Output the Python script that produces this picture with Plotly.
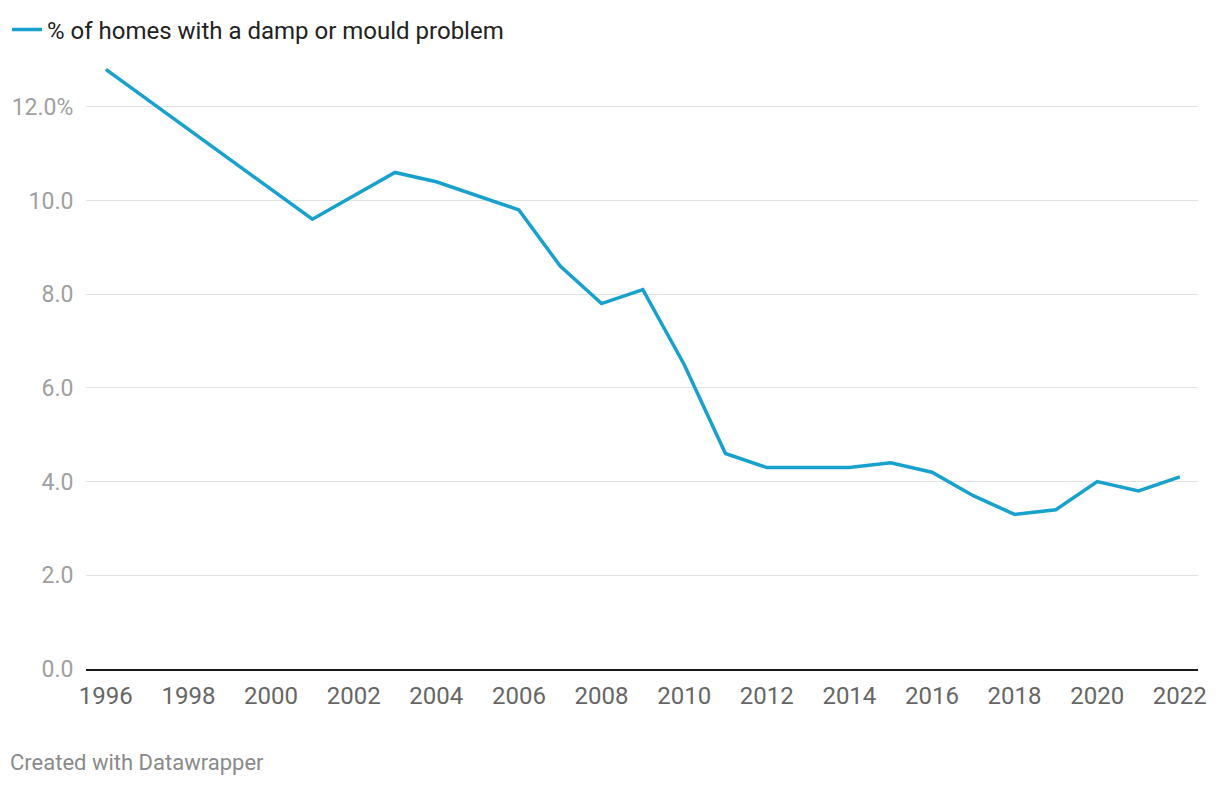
import plotly.graph_objects as go

years = [1996, 2001, 2003, 2004, 2006, 2007, 2008, 2009, 2010, 2011, 2012, 2013,
         2014, 2015, 2016, 2017, 2018, 2019, 2020, 2021, 2022]
pct = [12.8, 9.6, 10.6, 10.4, 9.8, 8.6, 7.8, 8.1, 6.5, 4.6, 4.3, 4.3,
       4.3, 4.4, 4.2, 3.7, 3.3, 3.4, 4.0, 3.8, 4.1]
series_name = "% of homes with a damp or mould problem"
y_ticks = [0, 2, 4, 6, 8, 10, 12]
y_tick_labels = ["0.0", "2.0", "4.0", "6.0", "8.0", "10.0", "12.0%"]
x_ticks = list(range(1996, 2023, 2))

W, H = 1220, 786
ml, mr, mt, mb = 86, 22, 60, 117
pw = W - ml - mr
ph = H - mt - mb

fig = go.Figure()
fig.add_trace(go.Scatter(
    x=years, y=pct, mode="lines", name=series_name,
    line=dict(color="#18a1cd", width=3.5),
))

fig.update_layout(
    width=W, height=H,
    margin=dict(l=ml, r=mr, t=mt, b=mb, autoexpand=False),
    paper_bgcolor="white", plot_bgcolor="white",
    font=dict(family="Roboto", size=20, color="#333"),
    showlegend=True,
    legend=dict(
        x=-(ml - 7) / pw, xanchor="left", y=1 + 30 / ph, yanchor="middle",
        orientation="h", font=dict(family="Roboto", size=24, color="#222"),
        bgcolor="rgba(0,0,0,0)", itemwidth=30,
    ),
    xaxis=dict(
        range=[1995.52, 2022.44], tickvals=x_ticks, ticktext=[str(v) for v in x_ticks],
        showgrid=False, zeroline=False, showline=True, linecolor="#1a1a1a", linewidth=2,
        ticks="outside", ticklen=4, tickcolor="rgba(0,0,0,0)", automargin=False,
        tickfont=dict(family="Roboto", size=24, color="#666"),
    ),
    yaxis=dict(
        range=[0, 13], tickvals=y_ticks, ticktext=y_tick_labels,
        showgrid=True, gridcolor="#e2e2e2", gridwidth=1, zeroline=False,
        ticks="outside", ticklen=7, tickcolor="rgba(0,0,0,0)", automargin=False,
        tickfont=dict(family="Roboto", size=23, color="#a0a0a0"),
    ),
    annotations=[dict(
        text="Created with Datawrapper", xref="paper", yref="paper",
        x=-(ml - 8) / pw, xanchor="left", y=-(762 - (H - mb)) / ph, yanchor="middle",
        showarrow=False, font=dict(family="Roboto", size=22, color="#8a8a8a"),
    )],
)

fig.write_html("out.html")
